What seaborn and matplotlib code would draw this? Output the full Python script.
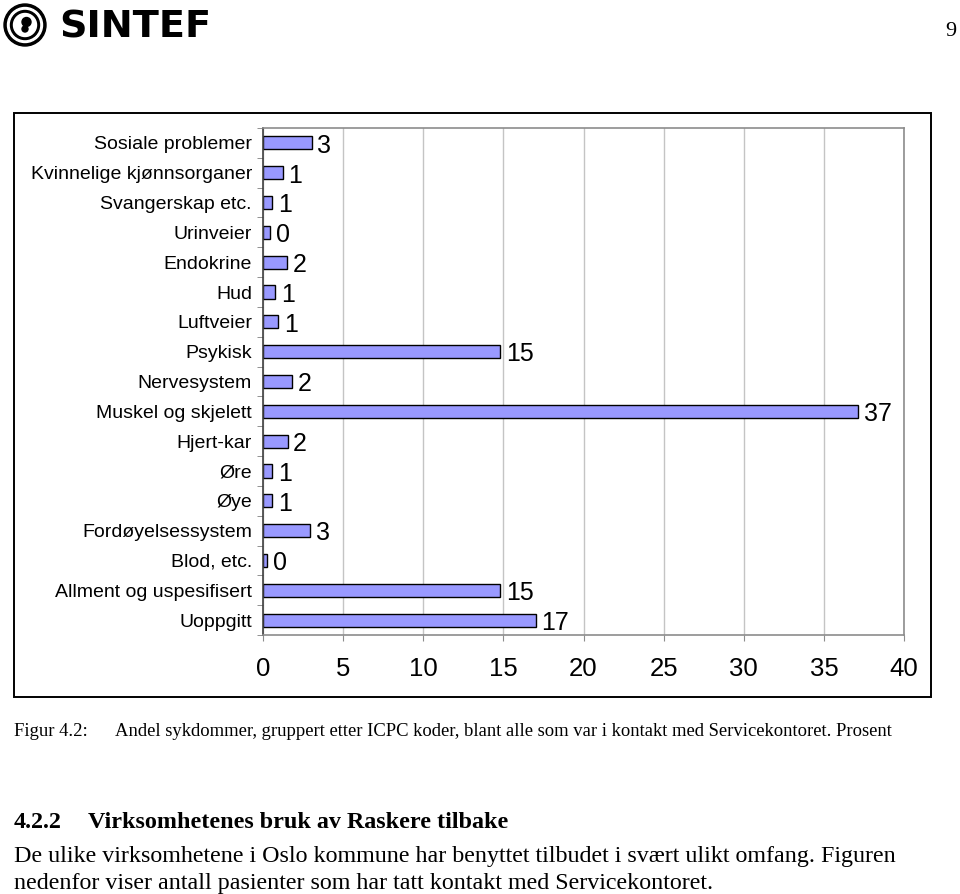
import matplotlib
matplotlib.use("Agg")
import matplotlib.pyplot as plt
import seaborn as sns
from matplotlib.patches import Rectangle, Circle
from matplotlib.ticker import FixedLocator

# Figur 4.2: andel sykdommer etter ICPC-gruppe (prosent)
categories = ["Sosiale problemer", "Kvinnelige kjønnsorganer", "Svangerskap etc.",
              "Urinveier", "Endokrine", "Hud", "Luftveier", "Psykisk", "Nervesystem",
              "Muskel og skjelett", "Hjert-kar", "Øre", "Øye", "Fordøyelsessystem",
              "Blod, etc.", "Allment og uspesifisert", "Uoppgitt"]
# bar lengths (labels show them rounded)
values = [3.04, 1.25, 0.59, 0.46, 1.5, 0.77, 0.96, 14.8, 1.81,
          37.15, 1.53, 0.59, 0.59, 2.94, 0.27, 14.8, 17.04]
shown = [3, 1, 1, 0, 2, 1, 1, 15, 2, 37, 2, 1, 1, 3, 0, 15, 17]
xticks = [0, 5, 10, 15, 20, 25, 30, 35, 40]

plt.rcParams['font.family'] = ['Liberation Sans', 'DejaVu Sans']

W, H = 960, 894
fig = plt.figure(figsize=(W / 100, H / 100), dpi=100)

def fx(px):
    return px / W

def fy(py):
    return 1 - py / H

# outer frame around the chart
fig.patches.append(Rectangle((fx(14), fy(697)), fx(931) - fx(14), fy(112.7) - fy(697),
                             transform=fig.transFigure, fill=False,
                             edgecolor='black', linewidth=1.4))

ax = fig.add_axes([fx(263), fy(635), fx(904) - fx(263), fy(128) - fy(635)])
sns.barplot(x=values, y=categories, orient='h', color='#9999FF', saturation=1,
            edgecolor='black', linewidth=1, width=0.44, ax=ax)

for i, (v, s) in enumerate(zip(values, shown)):
    ax.annotate(str(s), xy=(v, i), xytext=(4, -2), textcoords='offset points',
                ha='left', va='center', fontsize=18)

ax.set_xlim(0, 40)
ax.set_xticks(xticks)
ax.set_xticklabels([str(t) for t in xticks], fontsize=18.5)
ax.set_xlabel('')
ax.set_ylabel('')
ax.xaxis.grid(True, color='#c4c4c4', linewidth=1)
ax.set_axisbelow(True)

for side in ['top', 'right', 'bottom']:
    ax.spines[side].set_color('#8c8c8c')
    ax.spines[side].set_linewidth(1.2)
ax.spines['left'].set_color('#404040')
ax.spines['left'].set_linewidth(1.2)

ax.tick_params(axis='x', length=4, color='#8c8c8c', pad=12)
ax.tick_params(axis='y', which='major', length=0, pad=8, labelsize=14)
ax.yaxis.set_minor_locator(FixedLocator([i + 0.5 for i in range(-1, len(categories))]))
ax.tick_params(axis='y', which='minor', length=4, color='#808080')

# header: logo and page number
lax = fig.add_axes([fx(3), fy(47), fx(47) - fx(3), fy(3) - fy(47)])
lax.set_xlim(0, 44)
lax.set_ylim(0, 44)
lax.axis('off')
for r, c in [(21, 'black'), (17.5, 'white'), (14.5, 'black'), (11.5, 'white')]:
    lax.add_patch(Circle((22, 22), r, color=c))
lax.add_patch(Circle((23.5, 25), 4.5, color='black'))
lax.add_patch(Circle((22, 18), 3, color='black'))
fig.text(fx(59), fy(37), 'SINTEF', fontsize=27.5, fontweight='heavy',
         family='DejaVu Sans', va='baseline', ha='left')
fig.text(fx(956), fy(36), '9', fontsize=16, family='Liberation Serif',
         va='baseline', ha='right')

# caption and following text
serif = 'Liberation Serif'
fig.text(fx(14), fy(736), 'Figur 4.2:', fontsize=13.4, family=serif, va='baseline')
fig.text(fx(115), fy(736),
         'Andel sykdommer, gruppert etter ICPC koder, blant alle som var i kontakt '
         'med Servicekontoret. Prosent',
         fontsize=13.4, family=serif, va='baseline')
fig.text(fx(14), fy(828), '4.2.2', fontsize=17.4, family=serif, weight='bold',
         va='baseline')
fig.text(fx(88), fy(828), 'Virksomhetenes bruk av Raskere tilbake', fontsize=17.4,
         family=serif, weight='bold', va='baseline')
fig.text(fx(14), fy(862),
         'De ulike virksomhetene i Oslo kommune har benyttet tilbudet i svært ulikt '
         'omfang. Figuren', fontsize=17.3, family=serif, va='baseline')
fig.text(fx(14), fy(889),
         'nedenfor viser antall pasienter som har tatt kontakt med Servicekontoret.',
         fontsize=17.3, family=serif, va='baseline')

fig.savefig('out.png', dpi=100)
